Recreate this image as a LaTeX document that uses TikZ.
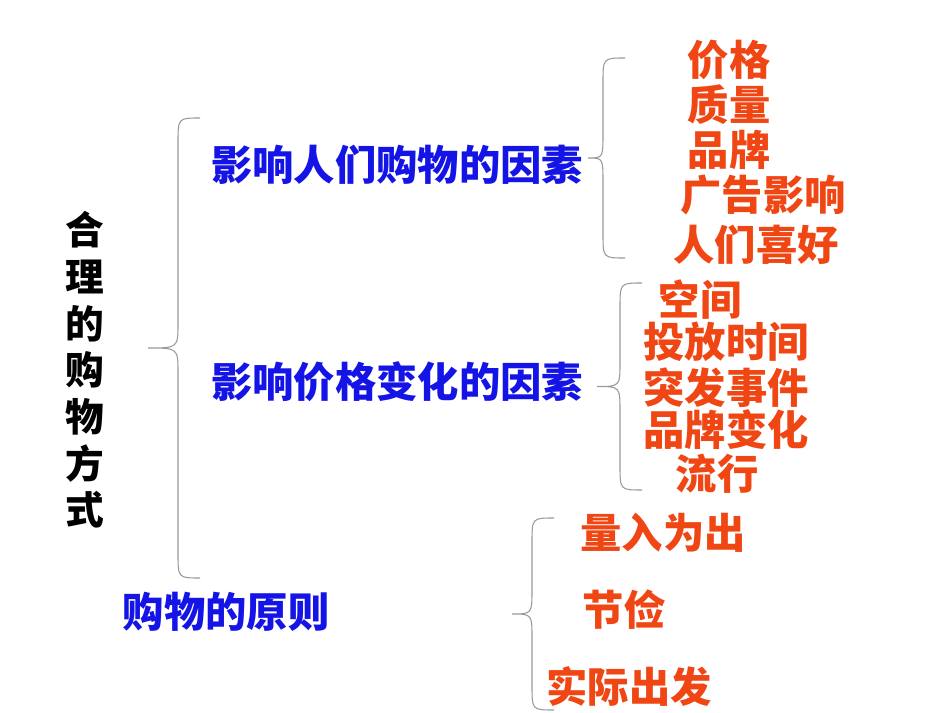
\documentclass[tikz,border=0pt]{standalone}
\usepackage{fontspec}
\setmainfont{Noto Sans CJK SC}
\newcommand\mybrace[4]{% x, ytop, ybot, tipx
  \pgfmathsetmacro\ym{(#2+#3)/2}
  \draw[brc] (#1+22,#2) .. controls (#1,#2) .. (#1,#2+25) -- (#1,\ym-25) .. controls (#1,\ym) .. (#4,\ym)
    .. controls (#1,\ym) .. (#1,\ym+25) -- (#1,#3-25) .. controls (#1,#3) .. (#1+22,#3);}
\definecolor{rd}{RGB}{240,70,20}
\definecolor{bl}{RGB}{20,20,230}
\begin{document}
\begin{tikzpicture}[x=0.75pt,y=-0.75pt,
  brc/.style={draw=gray!80,line width=0.8pt},
  bt/.style={text=bl,font=\fontsize{31}{31}\bfseries,inner sep=0},
  rt/.style={text=rd,font=\fontsize{31}{31}\bfseries,inner sep=0},
  vt/.style={text=black,font=\fontsize{29}{29}\bfseries,align=center,inner sep=0}]
\useasboundingbox[fill=white] (0,0) rectangle (950,713);
\node[vt] (main) at (85,370) {合\\[6pt]理\\[6pt]的\\[6pt]购\\[6pt]物\\[6pt]方\\[6pt]式};
\node[bt] (f1) at (397,165) {影响人们购物的因素};
\node[bt] (f2) at (397,382) {影响价格变化的因素};
\node[bt] (f3) at (226,612) {购物的原则};
\mybrace{178}{118}{578}{148}
\mybrace{603}{58}{258}{588}
\mybrace{620}{283}{490}{597}
\mybrace{532}{518}{710}{512}
\node[rt] (a1) at (729,60) {价格};
\node[rt] (a2) at (729,105) {质量};
\node[rt] (a3) at (729,150) {品牌};
\node[rt] (a4) at (763,195) {广告影响};
\node[rt] (a5) at (756,245) {人们喜好};
\node[rt] (b1) at (700,300) {空间};
\node[rt] (b2) at (726,342) {投放时间};
\node[rt] (b3) at (726,388) {突发事件};
\node[rt] (b4) at (726,430) {品牌变化};
\node[rt] (b5) at (717,474) {流行};
\node[rt] (c1) at (663,533) {量入为出};
\node[rt] (c2) at (624,610) {节俭};
\node[rt] (c3) at (629,686) {实际出发};
\end{tikzpicture}
\end{document}
